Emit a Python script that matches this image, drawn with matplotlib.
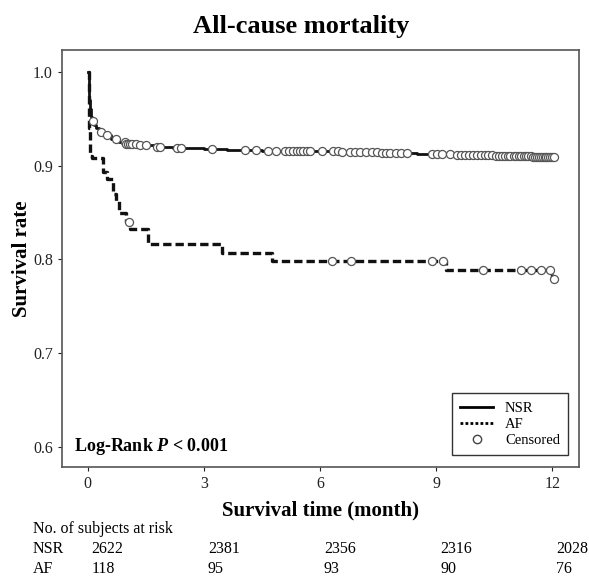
import matplotlib
matplotlib.use('Agg')
import matplotlib.pyplot as plt
from matplotlib.lines import Line2D
import numpy as np

plt.rcParams['font.family'] = ['Liberation Serif', 'DejaVu Serif']
plt.rcParams['mathtext.fontset'] = 'custom'
plt.rcParams['mathtext.it'] = 'Liberation Serif:italic:bold'
plt.rcParams['mathtext.rm'] = 'Liberation Serif:bold'

# NSR step curve (time in months, survival)
nsr_t = [0, 0.02, 0.04, 0.06, 0.08, 0.1, 0.15, 0.2, 0.3, 0.45, 0.6, 0.8, 1.0,
         1.3, 1.7, 2.2, 3.0, 3.6, 4.5, 5.5, 6.5, 7.5, 8.5, 9.5, 10.5, 11.5, 12.05]
nsr_s = [1.0, 0.985, 0.97, 0.96, 0.952, 0.947, 0.943, 0.94, 0.936, 0.932, 0.928,
         0.925, 0.923, 0.922, 0.920, 0.919, 0.918, 0.917, 0.916, 0.915, 0.914,
         0.913, 0.912, 0.911, 0.910, 0.909, 0.909]
nsr_cens = [0.13, 0.35, 0.5, 0.72, 0.95, 1.0, 1.05, 1.1, 1.15, 1.25, 1.35, 1.5,
            1.8, 1.87, 2.3, 2.4, 3.2, 4.05, 4.35, 4.65, 4.85, 5.1, 5.2, 5.3,
            5.4, 5.48, 5.56, 5.66, 5.74, 6.05, 6.33, 6.46, 6.56, 6.77, 6.9,
            7.03, 7.2, 7.33, 7.46, 7.59, 7.7, 7.82, 7.95, 8.08, 8.24, 8.89,
            9.02, 9.15, 9.35, 9.55, 9.65, 9.75, 9.85, 9.95, 10.05, 10.15,
            10.25, 10.35, 10.45, 10.55, 10.62, 10.7, 10.78, 10.85, 10.92,
            11.0, 11.07, 11.14, 11.2, 11.26, 11.32, 11.38, 11.44, 11.5, 11.55,
            11.6, 11.65, 11.7, 11.75, 11.8, 11.85, 11.9, 11.95, 12.0, 12.04]

# AF step curve
af_t = [0, 0.03, 0.05, 0.1, 0.39, 0.5, 0.65, 0.72, 0.8, 1.0, 1.1, 1.55, 3.46,
        4.75, 9.25, 11.98, 12.04]
af_s = [1.0, 0.94, 0.91, 0.908, 0.893, 0.886, 0.87, 0.862, 0.850, 0.840,
        0.832, 0.816, 0.807, 0.798, 0.789, 0.779, 0.779]
af_cens = [1.06, 6.3, 6.8, 8.9, 9.17, 10.2, 11.2, 11.45, 11.7, 11.95, 12.04]

# numbers at risk
risk_times = [0, 3, 6, 9, 12]
risk_nsr = [2622, 2381, 2356, 2316, 2028]
risk_af = [118, 95, 93, 90, 76]


def step_value(times, surv, t):
    idx = np.searchsorted(times, t, side='right') - 1
    return np.array(surv)[idx]


fig = plt.figure(figsize=(5.89, 5.77), dpi=100)
ax = fig.add_axes([0.105, 0.1906, 0.878, 0.7227])

ax.step(nsr_t, nsr_s, where='post', color='#111111', lw=2.0)
ax.step(af_t, af_s, where='post', color='#111111', lw=2.4, linestyle=(0, (2.5, 1.2)))

ax.plot(nsr_cens, step_value(nsr_t, nsr_s, nsr_cens), 'o', ms=5.8,
        mfc='white', mec='#555555', mew=0.9)
ax.plot(af_cens, step_value(af_t, af_s, af_cens), 'o', ms=5.8,
        mfc='white', mec='#555555', mew=0.9)

ax.set_xlim(-0.67, 12.69)
ax.set_ylim(0.579, 1.023)
ax.set_xticks(risk_times)
ax.set_yticks([0.6, 0.7, 0.8, 0.9, 1.0])
ax.set_yticklabels(['0.6', '0.7', '0.8', '0.9', '1.0'])
ax.tick_params(direction='out', length=3, width=0.8, labelsize=11.5,
               colors='#222222')
for sp in ax.spines.values():
    sp.set_color('#555555')
    sp.set_linewidth(1.2)

ax.set_xlabel('Survival time (month)', fontsize=15, fontweight='bold', labelpad=6)
ax.set_ylabel('Survival rate', fontsize=15, fontweight='bold', labelpad=1)

ax.text(0.023, 0.05, r'Log-Rank $P$ < 0.001', transform=ax.transAxes,
        fontsize=13, fontweight='bold', va='center', ha='left')

handles = [Line2D([], [], color='black', lw=2),
           Line2D([], [], color='black', lw=2, linestyle=(0, (1, 0.8))),
           Line2D([], [], marker='o', ls='none', ms=6, mfc='white', mec='#444444')]
leg = ax.legend(handles, ['NSR', 'AF', 'Censored'], loc='lower right',
                bbox_to_anchor=(0.979, 0.029), fontsize=10.5, frameon=True,
                fancybox=False, handlelength=2.3, borderpad=0.55,
                labelspacing=0.2, borderaxespad=0)
leg.get_frame().set_edgecolor('black')
leg.get_frame().set_linewidth(1.0)

fig.text(301 / 589, 1 - 27 / 577, 'All-cause mortality', ha='center', va='center',
         fontsize=19, fontweight='bold')

# at-risk table
fig.text(33 / 589, 1 - 529 / 577, 'No. of subjects at risk', fontsize=11.5, va='center')
fig.text(33 / 589, 1 - 549 / 577, 'NSR', fontsize=11.5, va='center')
fig.text(33 / 589, 1 - 569 / 577, 'AF', fontsize=11.5, va='center')
for t, n1, n2 in zip(risk_times, risk_nsr, risk_af):
    xf = ax.transData.transform((t + 0.1, 0))[0] / fig.bbox.width
    fig.text(xf, 1 - 549 / 577, str(n1), fontsize=11.5, va='center')
    fig.text(xf, 1 - 569 / 577, str(n2), fontsize=11.5, va='center')

fig.savefig('out.png', dpi=100)
